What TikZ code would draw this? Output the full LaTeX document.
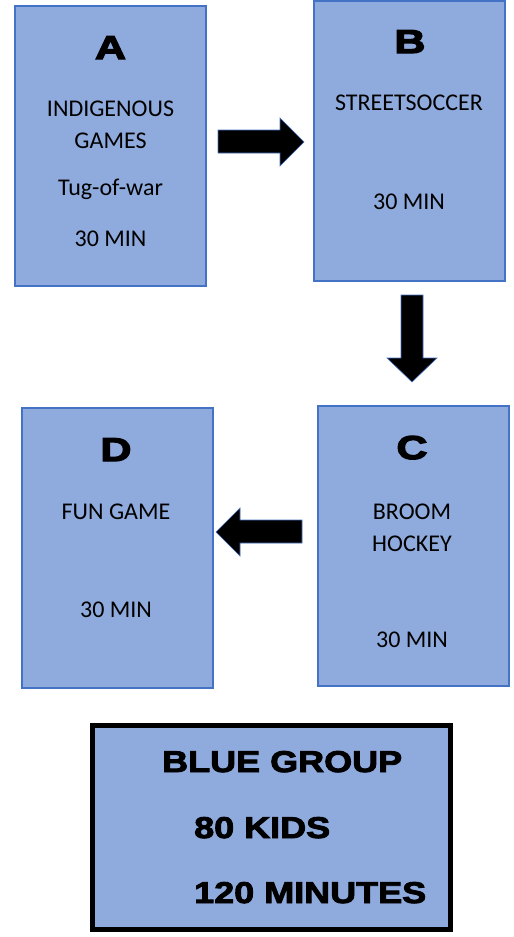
\documentclass[tikz,border=0pt]{standalone}
\usepackage{fontspec}
\setmainfont{Carlito}
\newfontfamily\headfont[FakeStretch=1.3,FakeBold=4]{Liberation Sans Bold}
\newfontfamily\groupfont[FakeStretch=1.2,FakeBold=3]{Liberation Sans Bold}
\definecolor{boxfill}{RGB}{143,170,220}
\definecolor{boxline}{RGB}{68,114,196}
\tikzset{
  actbox/.style={fill=boxfill,draw=boxline,line width=1.3pt},
  blockarrow/.style={fill=black,draw=boxline,line width=0.6pt,line join=miter},
  txt/.style={anchor=base,inner sep=0pt,font=\fontsize{24}{28}\selectfont},
  head/.style={anchor=base,inner sep=0pt,font=\headfont\fontsize{33}{36}\selectfont},
  grp/.style={anchor=base west,inner sep=0pt,font=\groupfont\fontsize{30}{34}\selectfont}
}
\begin{document}
\begin{tikzpicture}[x=1pt,y=-1pt]
\useasboundingbox (0,0) rectangle (514,937);
% boxes
\draw[actbox] (15,6) rectangle (206,286);
\draw[actbox] (314,1) rectangle (505,281);
\draw[actbox] (318,406) rectangle (509,686);
\draw[actbox] (22,408) rectangle (213,688);
\draw[fill=boxfill,draw=black,line width=5pt] (92.5,725.5) rectangle (450.5,929.5);
% A
\node[head] (ha) at (110.5,59) {A};
\node[txt] (a1) at (110.5,116.5) {INDIGENOUS};
\node[txt] (a2) at (110.5,148) {GAMES};
\node[txt] (a3) at (110.5,195) {Tug-of-war};
\node[txt] (a4) at (110.5,246) {30 MIN};
% B
\node[head] (hb) at (410,53) {B};
\node[txt] (b1) at (409,110) {STREETSOCCER};
\node[txt] (b2) at (409,209) {30 MIN};
% C
\node[head] (hc) at (412,459) {C};
\node[txt] (c1) at (412,519) {BROOM};
\node[txt] (c2) at (412,551) {HOCKEY};
\node[txt] (c3) at (412,647) {30 MIN};
% D
\node[head] (hd) at (116,461) {D};
\node[txt] (d1) at (116,519) {FUN GAME};
\node[txt] (d2) at (116,617) {30 MIN};
% group
\node[grp] (g1) at (162,772) {BLUE GROUP};
\node[grp] (g2) at (194,838) {80 KIDS};
\node[grp] (g3) at (194,903) {120 MINUTES};
% arrows
\draw[blockarrow] (218,130) -- (280,130) -- (280,118) -- (304,142) -- (280,166) -- (280,153) -- (218,153) -- cycle;
\draw[blockarrow] (401,295) -- (423,295) -- (423,358) -- (437,358) -- (412,382) -- (387,358) -- (401,358) -- cycle;
\draw[blockarrow] (302,520) -- (240,520) -- (240,508) -- (216,532) -- (240,556) -- (240,543) -- (302,543) -- cycle;
\end{tikzpicture}
\end{document}
